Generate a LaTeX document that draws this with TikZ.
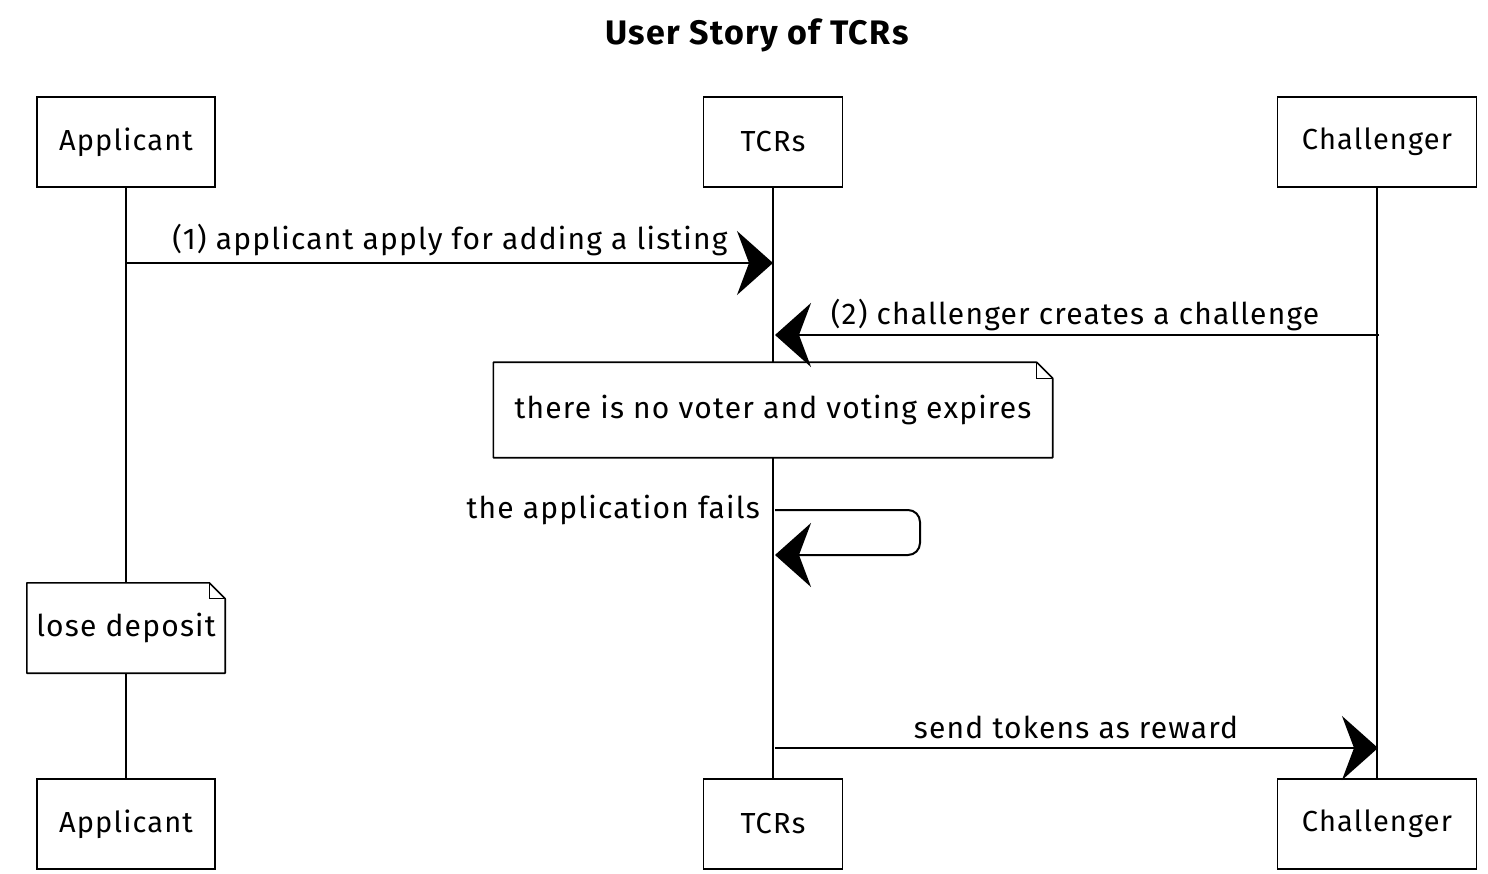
\documentclass[tikz,border=0pt]{standalone}
\usepackage{fontspec}
\setmainfont{Fira Sans}[LetterSpace=4]
\usetikzlibrary{arrows.meta,calc}
\begin{document}
\begin{tikzpicture}[x=1pt,y=-1pt,
  txt/.style={font=\fontsize{30}{34}\selectfont, inner sep=0pt},
  actor/.style={draw, line width=1.6pt, fill=white, minimum height=90pt, font=\fontsize{29}{34}\selectfont, inner sep=0pt},
  life/.style={line width=1.3pt},
  msg/.style={line width=2pt, -{Stealth[length=36pt,width=64pt,inset=12pt]}},
  notebox/.style={inner sep=0pt},
  notefold/.style={draw, line width=1.6pt, fill=white, line join=round}
]
\useasboundingbox (0,0) rectangle (1488,874);
% title
\node[txt, font=\bfseries\fontsize{34}{38}\selectfont] (title) at (757,35) {User Story of TCRs};
% participants
\node[actor, minimum width=178pt] (appT) at (126,142) {Applicant};
\node[actor, minimum width=139pt] (tcrT) at (773,142) {TCRs};
\node[actor, minimum width=199pt] (chT) at (1377,142) {Challenger};
\node[actor, minimum width=178pt] (appB) at (126,824) {Applicant};
\node[actor, minimum width=139pt] (tcrB) at (773,824) {TCRs};
\node[actor, minimum width=199pt] (chB) at (1377,824) {Challenger};
% note placeholders
\node[notebox, minimum width=559pt, minimum height=95pt] (note1) at (773,410) {};
\node[notebox, minimum width=198pt, minimum height=90pt] (note2) at (126,628) {};
% lifelines
\draw[life] (appT.south) -- (note2.north);
\draw[life] (note2.south) -- (appB.north);
\draw[life] (tcrT.south) -- (tcrB.north);
\draw[life] (chT.south) -- (chB.north);
% notes
\draw[notefold] (note1.north west) -- ([xshift=-16pt]note1.north east) -- ([yshift=-16pt]note1.north east) -- (note1.south east) -- (note1.south west) -- cycle;
\draw[line width=1.3pt] ([xshift=-16pt]note1.north east) |- ([yshift=-16pt]note1.north east);
\node[txt] (note1t) at (note1.center) {there is no voter and voting expires};
\draw[notefold] (note2.north west) -- ([xshift=-16pt]note2.north east) -- ([yshift=-16pt]note2.north east) -- (note2.south east) -- (note2.south west) -- cycle;
\draw[line width=1.3pt] ([xshift=-16pt]note2.north east) |- ([yshift=-16pt]note2.north east);
\node[txt] (note2t) at (note2.center) {lose deposit};
% message endpoints
\coordinate (m1a) at (126,263);
\coordinate (m1b) at (773,263);
\coordinate (m2a) at (1379,335);
\coordinate (m2b) at (775,335);
\coordinate (s1) at (775,510);
\coordinate (s2) at (775,555);
\coordinate (m4a) at (775,748);
\coordinate (m4b) at (1378,748);
% messages
\draw[msg] (m1a) -- (m1b);
\node[txt] (l1) at (450,240) {(1) applicant apply for adding a listing};
\draw[msg] (m2a) -- (m2b);
\node[txt] (l2) at (1075,315) {(2) challenger creates a challenge};
\draw[msg, rounded corners=12pt] (s1) -- (920,510) -- (920,555) -- (s2);
\node[txt, anchor=east] (l3) at (760,510) {the application fails};
\draw[msg] (m4a) -- (m4b);
\node[txt] (l4) at (1076,727) {send tokens as reward};
\end{tikzpicture}
\end{document}
